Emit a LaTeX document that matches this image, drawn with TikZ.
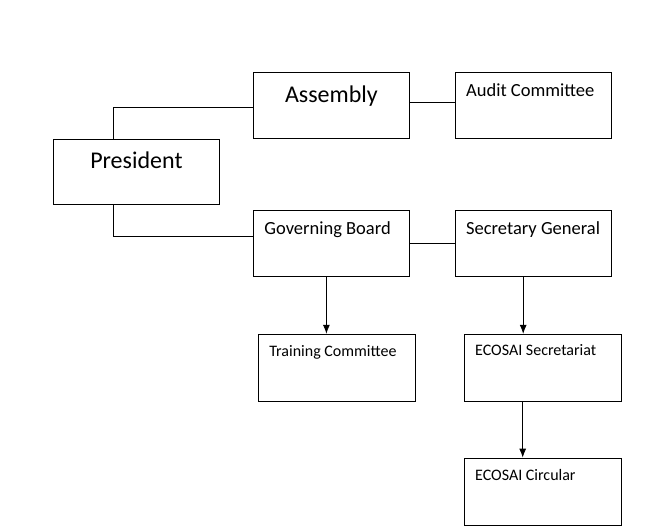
\documentclass[tikz,border=0pt]{standalone}
\usepackage{fontspec}
\setmainfont{Carlito}
\usetikzlibrary{positioning,arrows.meta}

\begin{document}
\begin{tikzpicture}[x=1pt, y=-1pt, line width=0.8pt,
	box/.style = {draw, anchor=north west, inner xsep=11pt, inner ysep=0pt, align=flush left, text width=134pt, text height=24pt, text depth=42pt, font=\fontsize{18.5}{22}\selectfont},
	bigbox/.style = {box, align=flush center, text height=30pt, text depth=36pt, font=\fontsize{24}{28}\selectfont},
	smallbox/.style = {box, text width=135pt, text height=22pt, text depth=45pt, font=\fontsize{16}{19}\selectfont},
	arr/.style = {-{Latex[length=9pt, width=7pt]}}]
		\useasboundingbox (0,0) rectangle (648,532);
		\node[bigbox] (president) at (53,139) [text width=144pt, text height=29pt] {President};
		\node[bigbox] (assembly) at (253,72) {Assembly};
		\node[box] (audit) [right=45pt of assembly] {Audit Committee};
		\node[box] (board) at (253,210) {Governing Board};
		\node[box] (secgen) [right=45pt of board] {Secretary General};
		\node[smallbox] (training) [below right=57pt and 5pt of board.south west] {Training Committee};
		\node[smallbox, text height=21pt, text depth=46pt] (secretariat) [below right=57pt and 9pt of secgen.south west] {ECOSAI Secretariat};
		\node[smallbox] (circular) [below=56pt of secretariat] {ECOSAI Circular};
		\draw ([yshift=-2pt]assembly.west) -| ([xshift=60pt]president.north west);
		\draw ([yshift=7pt]board.west) -| ([xshift=60pt]president.south west);
		\draw ([yshift=3pt]assembly.east) -- ([yshift=3pt]audit.west);
		\draw (board.east) -- (secgen.east -| secgen.west);
		\path[arr] ([xshift=-5pt]board.south) edge ([xshift=-5pt]board.south |- training.north)
			([xshift=-10pt]secgen.south) edge ([xshift=-10pt]secgen.south |- secretariat.north)
			([xshift=-20pt]secretariat.south) edge ([xshift=-20pt]secretariat.south |- circular.north);
	\end{tikzpicture}
\end{document}
